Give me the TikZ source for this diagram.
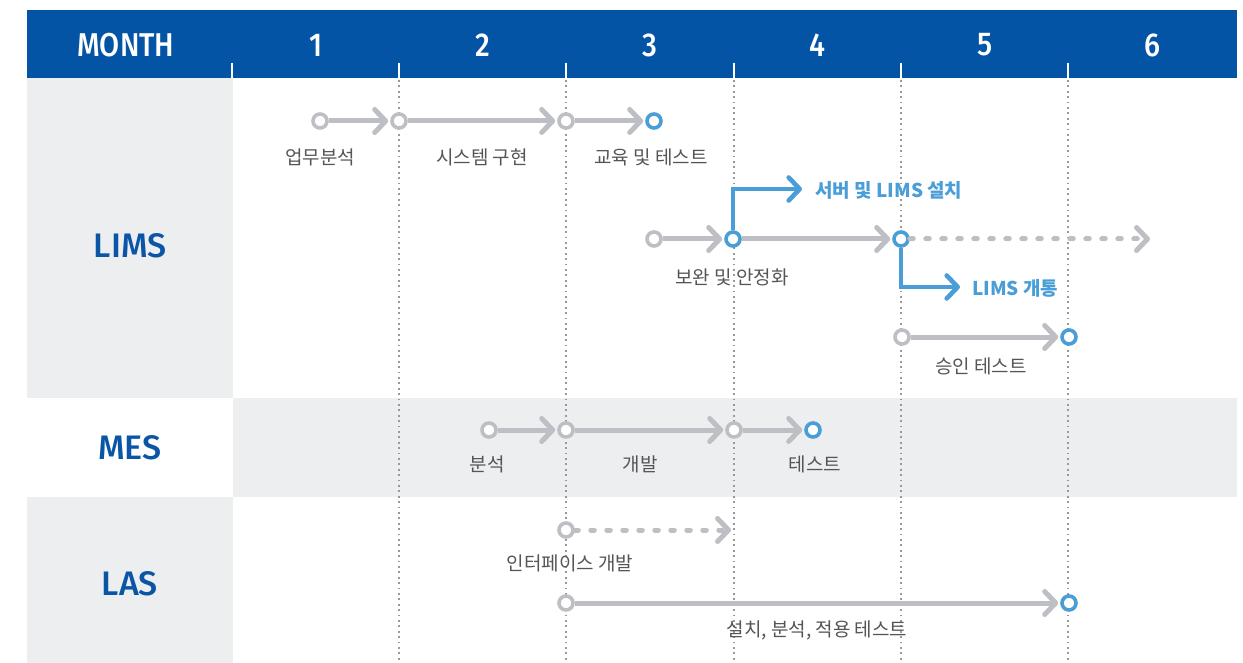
\documentclass[tikz,border=0pt]{standalone}
\usepackage{fontspec}
\setmainfont{Noto Sans CJK KR}
\newfontfamily\kr{Noto Sans CJK KR}
\newfontfamily\din[FakeStretch=0.88]{Fira Sans Medium}
\newfontfamily\dinrow{Fira Sans Medium}
\usetikzlibrary{arrows.meta}
\definecolor{hdr}{HTML}{0454A6}
\definecolor{lab}{HTML}{0A55A6}
\definecolor{cellg}{HTML}{EDEEF0}
\definecolor{lineg}{HTML}{BEBFC4}
\definecolor{blu}{HTML}{4A9ED8}
\definecolor{txt}{HTML}{555555}
\definecolor{dotc}{HTML}{999999}
\tikzset{
  hd/.style={text=white, font=\din\fontsize{33}{36}\selectfont, inner sep=0},
  rowlab/.style={text=lab, font=\dinrow\fontsize{34}{38}\selectfont, inner sep=0},
  lbl/.style={text=txt, font=\kr\fontsize{19}{21}\selectfont, inner sep=0},
  blbl/.style={text=blu, font=\kr\bfseries\fontsize{19}{21}\selectfont, inner sep=0, anchor=west},
  gcirc/.style={circle, draw=lineg, line width=3.6pt, fill=white, minimum size=14pt, inner sep=0},
  bcirc/.style={circle, draw=blu, line width=3.6pt, fill=white, minimum size=14pt, inner sep=0},
  chev/.tip={Straight Barb[length=11pt, width=23pt, round]},
  gline/.style={draw=lineg, line width=5pt, -chev, shorten >=2pt},
  gdash/.style={draw=lineg, line width=5pt, -chev, dash pattern=on 3.5pt off 12.5pt, line cap=round},
  bline/.style={draw=blu, line width=4.6pt, -chev, line join=miter},
  dotline/.style={draw=dotc, line width=1.1pt, dash pattern=on 1.8pt off 3.6pt},
  tick/.style={draw=white, line width=1.8pt}
}
\begin{document}
\begin{tikzpicture}[x=1pt,y=-1pt]
\fill[white] (0,0) rectangle (1243,663);
\useasboundingbox (0,0) rectangle (1243,663);
% backgrounds
\fill[hdr] (27,10) rectangle (1237,78);
\fill[cellg] (27,78) rectangle (233,398);
\fill[cellg] (233,398) rectangle (1237,497);
\fill[cellg] (27,497) rectangle (233,663);
% grid
\foreach \x in {399,566,734,901,1068} \draw[dotline] (\x,80) -- (\x,663);
\foreach \x in {232,399,566,734,901,1068} \draw[tick] (\x,63) -- (\x,78);
% header
\node[hd] (mon) at (126,45) {MONTH};
\node[hd] (m1) at (316,45) {1};
\node[hd] (m2) at (483,45) {2};
\node[hd] (m3) at (650,45) {3};
\node[hd] (m4) at (817,45) {4};
\node[hd] (m5) at (985,45) {5};
\node[hd] (m6) at (1152,45) {6};
% row labels
\node[rowlab] (rlims) at (130,246) {LIMS};
\node[rowlab] (rmes) at (130,448) {MES};
\node[rowlab] (rlas) at (130,584) {LAS};
% LIMS row a
\node[gcirc] (a1) at (320,121) {};
\node[gcirc] (a2) at (399,121) {};
\node[gcirc] (a3) at (566,121) {};
\node[bcirc] (a4) at (654,121) {};
\draw[gline] (a1) -- (a2);
\draw[gline] (a2) -- (a3);
\draw[gline] (a3) -- (a4);
\node[lbl] (la1) at (320,157) {업무분석};
\node[lbl] (la2) at (482,157) {시스템 구현};
\node[lbl] (la3) at (651,157) {교육 및 테스트};
% LIMS row b
\node[gcirc] (b1) at (654,239) {};
\node[bcirc] (b2) at (733,239) {};
\node[bcirc] (b3) at (901,239) {};
\coordinate (bend) at (1150,239);
\coordinate (srv) at (802,189);
\coordinate (open) at (960,287);
\draw[gline] (b1) -- (b2);
\draw[gline] (b2) -- (b3);
\draw[gdash] (b3) -- (bend);
\draw[bline] (b2) |- (srv);
\draw[bline] (b3) |- (open);
\node[blbl] (lsrv) at (815,190) {서버 및 LIMS 설치};
\node[blbl] (lopen) at (972,288) {LIMS 개통};
\node[lbl] (lb) at (732,277) {보완 및 안정화};
% LIMS row c
\node[gcirc] (c1) at (902,337) {};
\node[bcirc] (c2) at (1069,337) {};
\draw[gline] (c1) -- (c2);
\node[lbl] (lc) at (981,366) {승인 테스트};
% MES
\node[gcirc] (e1) at (489,430) {};
\node[gcirc] (e2) at (566,430) {};
\node[gcirc] (e3) at (734,430) {};
\node[bcirc] (e4) at (813,430) {};
\draw[gline] (e1) -- (e2);
\draw[gline] (e2) -- (e3);
\draw[gline] (e3) -- (e4);
\node[lbl] (le1) at (487,464) {분석};
\node[lbl] (le2) at (640,464) {개발};
\node[lbl] (le3) at (815,464) {테스트};
% LAS
\node[gcirc] (s1) at (566,530) {};
\coordinate (send) at (731,530);
\draw[gdash] (s1) -- (send);
\node[lbl] (ls1) at (570,563) {인터페이스 개발};
\node[gcirc] (s2) at (566,603) {};
\node[bcirc] (s3) at (1069,603) {};
\draw[gline] (s2) -- (s3);
\node[lbl] (ls2) at (817,630) {설치, 분석, 적용 테스트};
\end{tikzpicture}
\end{document}
